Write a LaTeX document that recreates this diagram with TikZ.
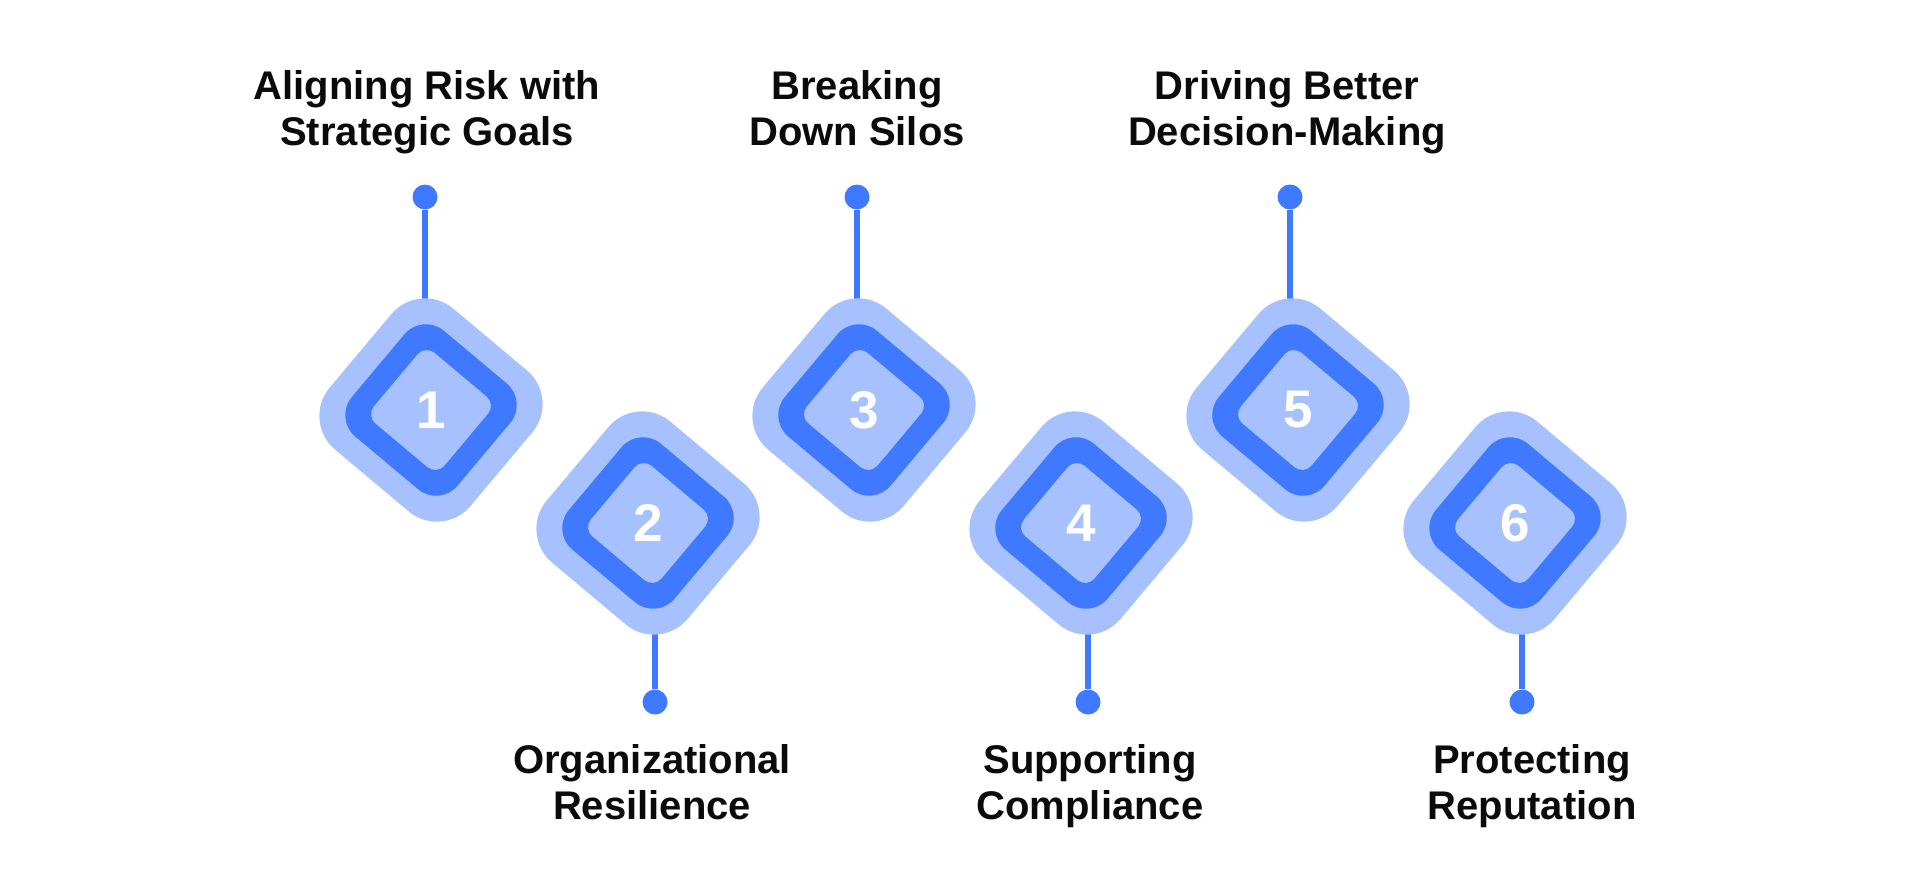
\documentclass[tikz,border=0pt]{standalone}
\usepackage{fontspec}
\setmainfont{Liberation Sans}
\definecolor{lightb}{HTML}{A6C1FE}
\definecolor{darkb}{HTML}{3E79FF}
\definecolor{ink}{HTML}{0B0B0B}
\begin{document}
\begin{tikzpicture}[x=1pt,y=-1pt,
  outerd/.style={rectangle, rounded corners=44pt, minimum size=184pt, inner sep=0pt, fill=lightb, rotate=50},
  midd/.style={rectangle, rounded corners=28pt, minimum size=138pt, inner sep=0pt, fill=darkb, rotate=50},
  innd/.style={rectangle, rounded corners=12pt, minimum size=92pt, inner sep=0pt, fill=lightb, rotate=50},
  num/.style={text=white, font=\bfseries\fontsize{53}{53}\selectfont, inner sep=0pt},
  pin/.style={circle, fill=darkb, minimum size=25pt, inner sep=0pt},
  stem/.style={draw=darkb, line width=6.5pt},
  lbl/.style={align=center, text=ink, font=\bfseries\fontsize{40}{46}\selectfont, inner sep=0pt, anchor=base},
]
\useasboundingbox (0,0) rectangle (1920,889);
% centres of the diamonds
\coordinate (c1) at (431,410);
\coordinate (c2) at (648,523);
\coordinate (c3) at (864,410);
\coordinate (c4) at (1081,523);
\coordinate (c5) at (1298,410);
\coordinate (c6) at (1515,523);
% pins
\node[pin] (p1) at (425,197) {};
\node[pin] (p2) at (655,702) {};
\node[pin] (p3) at (857,197) {};
\node[pin] (p4) at (1088,702) {};
\node[pin] (p5) at (1290,197) {};
\node[pin] (p6) at (1522,702) {};
\foreach \i in {1,...,6}{
  \draw[stem] (p\i) -- (p\i |- c\i);
}
% diamonds
\foreach \i in {1,...,6}{
  \node[outerd] (o\i) at (c\i) {};
  \node[midd] (m\i) at (c\i) {};
  \node[innd] (d\i) at (c\i) {};
  \node[num] (n\i) at (c\i) {\i};
}
% labels (anchor base = baseline of the last line)
\node[lbl] (t1) at (427,145) {Aligning Risk with\\Strategic Goals};
\node[lbl] (t3) at (857,145) {Breaking\\Down Silos};
\node[lbl] (t5) at (1287,145) {Driving Better\\Decision-Making};
\node[lbl] (t2) at (652,819) {Organizational\\Resilience};
\node[lbl] (t4) at (1090,819) {Supporting\\Compliance};
\node[lbl] (t6) at (1532,819) {Protecting\\Reputation};
\end{tikzpicture}
\end{document}
